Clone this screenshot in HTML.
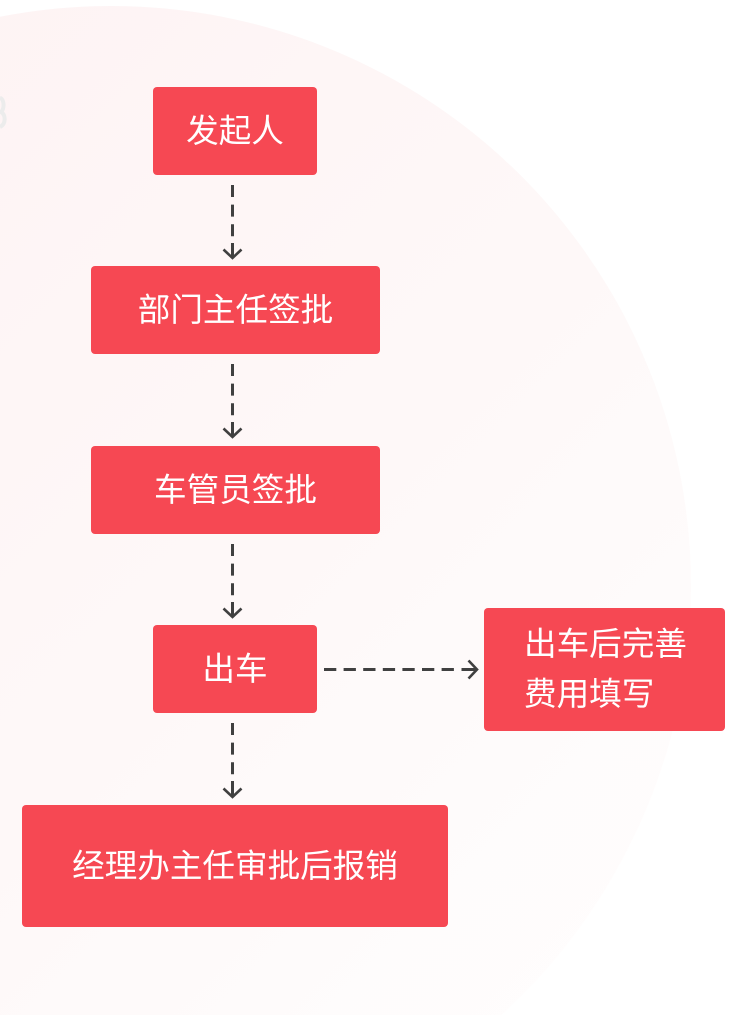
<!DOCTYPE html>
<html>
<head>
<meta charset="utf-8">
<style>
  html{margin:0;padding:0;width:750px;height:1015px;overflow:hidden;}
  body{margin:0;padding:0;width:750px;height:1015px;position:relative;overflow:hidden;background:#ffffff;
    font-family:"Liberation Sans","Noto Sans CJK SC",sans-serif;}
  svg.bg{position:absolute;left:0;top:0;display:block;}
  .box{position:absolute;background:#f64853;border-radius:4px;color:#fff;font-size:32.6px;
    display:flex;align-items:center;justify-content:center;white-space:nowrap;line-height:1;}
  .box2{position:absolute;background:#f64853;border-radius:4px;color:#fff;font-size:32.6px;
    line-height:50px;box-sizing:border-box;padding-left:40px;padding-top:11px;white-space:nowrap;}
</style>
</head>
<body>
<svg class="bg" width="750" height="1015" viewBox="0 0 750 1015">
  <defs>
    <linearGradient id="g" gradientUnits="userSpaceOnUse" x1="-469" y1="6" x2="691" y2="1166">
      <stop offset="0" stop-color="#fdf1f2"/>
      <stop offset="0.55" stop-color="#fef8f8"/>
      <stop offset="1" stop-color="#ffffff"/>
    </linearGradient>
  </defs>
  <path d="M 0 16.7 A 580 580 0 0 1 501.3 1015 L 0 1015 Z" fill="url(#g)"/>
  <path d="M 0 98 C 4 99, 5 108, 1 112 C 6 115, 6 124, 0 127" fill="none" stroke="#ececec" stroke-width="4"/>

  <g stroke="#404040" stroke-width="3" fill="none">
    <line x1="232.5" y1="185" x2="232.5" y2="240" stroke-dasharray="12 7.6"/>
    <line x1="232.5" y1="243" x2="232.5" y2="257"/>
    <polyline points="223.5,249.5 232.5,258 241.5,249.5" stroke-width="2.6"/>

    <line x1="232.5" y1="364" x2="232.5" y2="419" stroke-dasharray="12 7.6"/>
    <line x1="232.5" y1="422" x2="232.5" y2="436"/>
    <polyline points="223.5,428.5 232.5,437 241.5,428.5" stroke-width="2.6"/>

    <line x1="232.5" y1="544" x2="232.5" y2="599" stroke-dasharray="12 7.6"/>
    <line x1="232.5" y1="602" x2="232.5" y2="616"/>
    <polyline points="223.5,608.5 232.5,617 241.5,608.5" stroke-width="2.6"/>

    <line x1="232.5" y1="723" x2="232.5" y2="778" stroke-dasharray="12 7.6"/>
    <line x1="232.5" y1="781" x2="232.5" y2="796"/>
    <polyline points="223.5,788.5 232.5,797 241.5,788.5" stroke-width="2.6"/>

    <line x1="324" y1="669.5" x2="455" y2="669.5" stroke-dasharray="12.3 7.3"/>
    <line x1="461.5" y1="669.5" x2="476" y2="669.5"/>
    <polyline points="468.5,660.5 477,669.5 468.5,678.5" stroke-width="2.6"/>
  </g>
</svg>

<div class="box" style="left:153px;top:87px;width:164px;height:88px;">发起人</div>
<div class="box" style="left:91px;top:266px;width:289px;height:88px;">部门主任签批</div>
<div class="box" style="left:91px;top:446px;width:289px;height:88px;">车管员签批</div>
<div class="box" style="left:153px;top:625px;width:164px;height:88px;">出车</div>
<div class="box2" style="left:484px;top:608px;width:241px;height:123px;">出车后完善<br>费用填写</div>
<div class="box" style="left:22px;top:805px;width:426px;height:122px;">经理办主任审批后报销</div>
</body>
</html>
